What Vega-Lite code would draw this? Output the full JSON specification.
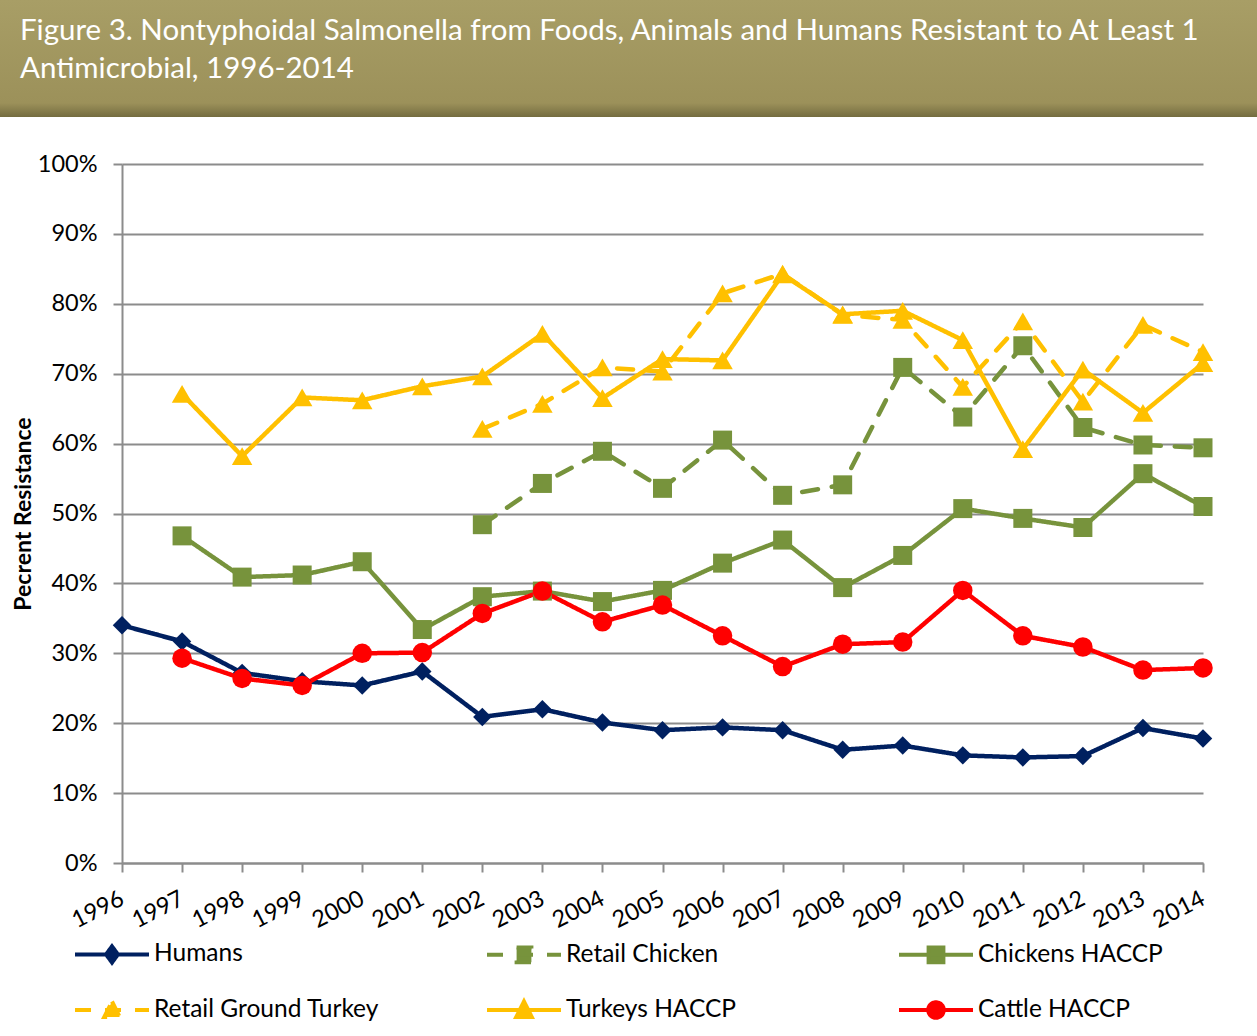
{
  "$schema": "https://vega.github.io/schema/vega-lite/v6.json",
  "padding": 0,
  "background": "white",
  "config": {
    "view": {"stroke": null},
    "font": "Lato"
  },
  "datasets": {
    "series": [
      {"year": "1996", "series": "Humans", "value": 34.0},
      {"year": "1997", "series": "Humans", "value": 31.7},
      {"year": "1998", "series": "Humans", "value": 27.2},
      {"year": "1999", "series": "Humans", "value": 26.0},
      {"year": "2000", "series": "Humans", "value": 25.4},
      {"year": "2001", "series": "Humans", "value": 27.4},
      {"year": "2002", "series": "Humans", "value": 20.9},
      {"year": "2003", "series": "Humans", "value": 22.0},
      {"year": "2004", "series": "Humans", "value": 20.1},
      {"year": "2005", "series": "Humans", "value": 19.0},
      {"year": "2006", "series": "Humans", "value": 19.4},
      {"year": "2007", "series": "Humans", "value": 19.0},
      {"year": "2008", "series": "Humans", "value": 16.2},
      {"year": "2009", "series": "Humans", "value": 16.8},
      {"year": "2010", "series": "Humans", "value": 15.4},
      {"year": "2011", "series": "Humans", "value": 15.1},
      {"year": "2012", "series": "Humans", "value": 15.3},
      {"year": "2013", "series": "Humans", "value": 19.3},
      {"year": "2014", "series": "Humans", "value": 17.8},

      {"year": "2002", "series": "Retail Chicken", "value": 48.4},
      {"year": "2003", "series": "Retail Chicken", "value": 54.3},
      {"year": "2004", "series": "Retail Chicken", "value": 58.9},
      {"year": "2005", "series": "Retail Chicken", "value": 53.6},
      {"year": "2006", "series": "Retail Chicken", "value": 60.5},
      {"year": "2007", "series": "Retail Chicken", "value": 52.6},
      {"year": "2008", "series": "Retail Chicken", "value": 54.1},
      {"year": "2009", "series": "Retail Chicken", "value": 70.9},
      {"year": "2010", "series": "Retail Chicken", "value": 63.8},
      {"year": "2011", "series": "Retail Chicken", "value": 74.0},
      {"year": "2012", "series": "Retail Chicken", "value": 62.3},
      {"year": "2013", "series": "Retail Chicken", "value": 59.8},
      {"year": "2014", "series": "Retail Chicken", "value": 59.4},

      {"year": "1997", "series": "Chickens HACCP", "value": 46.8},
      {"year": "1998", "series": "Chickens HACCP", "value": 40.9},
      {"year": "1999", "series": "Chickens HACCP", "value": 41.2},
      {"year": "2000", "series": "Chickens HACCP", "value": 43.1},
      {"year": "2001", "series": "Chickens HACCP", "value": 33.4},
      {"year": "2002", "series": "Chickens HACCP", "value": 38.1},
      {"year": "2003", "series": "Chickens HACCP", "value": 38.9},
      {"year": "2004", "series": "Chickens HACCP", "value": 37.4},
      {"year": "2005", "series": "Chickens HACCP", "value": 39.0},
      {"year": "2006", "series": "Chickens HACCP", "value": 42.9},
      {"year": "2007", "series": "Chickens HACCP", "value": 46.2},
      {"year": "2008", "series": "Chickens HACCP", "value": 39.4},
      {"year": "2009", "series": "Chickens HACCP", "value": 44.0},
      {"year": "2010", "series": "Chickens HACCP", "value": 50.7},
      {"year": "2011", "series": "Chickens HACCP", "value": 49.3},
      {"year": "2012", "series": "Chickens HACCP", "value": 48.0},
      {"year": "2013", "series": "Chickens HACCP", "value": 55.7},
      {"year": "2014", "series": "Chickens HACCP", "value": 51.0},

      {"year": "2002", "series": "Retail Ground Turkey", "value": 62.1},
      {"year": "2003", "series": "Retail Ground Turkey", "value": 65.7},
      {"year": "2004", "series": "Retail Ground Turkey", "value": 70.9},
      {"year": "2005", "series": "Retail Ground Turkey", "value": 70.3},
      {"year": "2006", "series": "Retail Ground Turkey", "value": 81.5},
      {"year": "2007", "series": "Retail Ground Turkey", "value": 84.3},
      {"year": "2008", "series": "Retail Ground Turkey", "value": 78.4},
      {"year": "2009", "series": "Retail Ground Turkey", "value": 77.7},
      {"year": "2010", "series": "Retail Ground Turkey", "value": 68.1},
      {"year": "2011", "series": "Retail Ground Turkey", "value": 77.5},
      {"year": "2012", "series": "Retail Ground Turkey", "value": 66.0},
      {"year": "2013", "series": "Retail Ground Turkey", "value": 77.0},
      {"year": "2014", "series": "Retail Ground Turkey", "value": 73.1},

      {"year": "1997", "series": "Turkeys HACCP", "value": 67.1},
      {"year": "1998", "series": "Turkeys HACCP", "value": 58.2},
      {"year": "1999", "series": "Turkeys HACCP", "value": 66.6},
      {"year": "2000", "series": "Turkeys HACCP", "value": 66.2},
      {"year": "2001", "series": "Turkeys HACCP", "value": 68.2},
      {"year": "2002", "series": "Turkeys HACCP", "value": 69.6},
      {"year": "2003", "series": "Turkeys HACCP", "value": 75.7},
      {"year": "2004", "series": "Turkeys HACCP", "value": 66.5},
      {"year": "2005", "series": "Turkeys HACCP", "value": 72.1},
      {"year": "2006", "series": "Turkeys HACCP", "value": 71.9},
      {"year": "2007", "series": "Turkeys HACCP", "value": 84.2},
      {"year": "2008", "series": "Turkeys HACCP", "value": 78.5},
      {"year": "2009", "series": "Turkeys HACCP", "value": 79.0},
      {"year": "2010", "series": "Turkeys HACCP", "value": 74.8},
      {"year": "2011", "series": "Turkeys HACCP", "value": 59.2},
      {"year": "2012", "series": "Turkeys HACCP", "value": 70.6},
      {"year": "2013", "series": "Turkeys HACCP", "value": 64.4},
      {"year": "2014", "series": "Turkeys HACCP", "value": 71.5},

      {"year": "1997", "series": "Cattle HACCP", "value": 29.3},
      {"year": "1998", "series": "Cattle HACCP", "value": 26.4},
      {"year": "1999", "series": "Cattle HACCP", "value": 25.4},
      {"year": "2000", "series": "Cattle HACCP", "value": 30.0},
      {"year": "2001", "series": "Cattle HACCP", "value": 30.1},
      {"year": "2002", "series": "Cattle HACCP", "value": 35.7},
      {"year": "2003", "series": "Cattle HACCP", "value": 38.9},
      {"year": "2004", "series": "Cattle HACCP", "value": 34.5},
      {"year": "2005", "series": "Cattle HACCP", "value": 36.9},
      {"year": "2006", "series": "Cattle HACCP", "value": 32.5},
      {"year": "2007", "series": "Cattle HACCP", "value": 28.1},
      {"year": "2008", "series": "Cattle HACCP", "value": 31.3},
      {"year": "2009", "series": "Cattle HACCP", "value": 31.6},
      {"year": "2010", "series": "Cattle HACCP", "value": 39.0},
      {"year": "2011", "series": "Cattle HACCP", "value": 32.5},
      {"year": "2012", "series": "Cattle HACCP", "value": 30.9},
      {"year": "2013", "series": "Cattle HACCP", "value": 27.6},
      {"year": "2014", "series": "Cattle HACCP", "value": 27.9}
    ]
  },
  "columns": 1,
  "spacing": 35,
  "concat": [
    {
      "width": 1135,
      "height": 117,
      "data": {"values": [{"banner": 1}]},
      "title": {
        "text": ["Figure 3. Nontyphoidal Salmonella from Foods, Animals and Humans Resistant to At Least 1", "Antimicrobial, 1996-2014"],
        "anchor": "start",
        "frame": "group",
        "orient": "top",
        "baseline": "top",
        "offset": -84,
        "dx": -102,
        "color": "white",
        "font": "Lato",
        "fontSize": 29.5,
        "fontWeight": "normal",
        "lineHeight": 38
      },
      "mark": {
        "type": "rect",
        "color": {
          "gradient": "linear",
          "x1": 0, "y1": 0, "x2": 0, "y2": 1,
          "stops": [
            {"offset": 0, "color": "#A89E66"},
            {"offset": 0.88, "color": "#9C915A"},
            {"offset": 1, "color": "#746C40"}
          ]
        }
      },
      "encoding": {
        "x": {"value": -122},
        "x2": {"value": 1135}
      }
    },
    {
      "width": 1081,
      "height": 699,
      "data": {"name": "series"},
      "encoding": {
        "x": {
          "field": "year",
          "type": "ordinal",
          "scale": {"type": "point", "padding": 0},
          "axis": {
            "title": null,
            "labelAngle": -27,
            "labelAlign": "right",
            "labelBaseline": "middle",
            "labelPadding": 25,
            "labelFontSize": 23.5,
            "labelColor": "#000000",
            "labelFont": "Lato",
            "tickSize": 9,
            "tickColor": "#8C8C8C",
            "tickWidth": 2,
            "domainColor": "#8C8C8C",
            "domainWidth": 2,
            "grid": false
          }
        },
        "y": {
          "field": "value",
          "type": "quantitative",
          "scale": {"domain": [0, 100], "nice": false},
          "axis": {
            "title": "Pecrent Resistance",
            "titleFont": "Lato",
            "titleFontSize": 23,
            "titleFontWeight": "bold",
            "titleColor": "#000000",
            "titlePadding": 2,
            "values": [0, 10, 20, 30, 40, 50, 60, 70, 80, 90, 100],
            "labelExpr": "datum.value + '%'",
            "labelFontSize": 23.5,
            "labelFont": "Lato",
            "labelColor": "#000000",
            "labelPadding": 16,
            "tickSize": 9,
            "tickColor": "#8C8C8C",
            "tickWidth": 2,
            "domainColor": "#8C8C8C",
            "domainWidth": 2,
            "grid": true,
            "gridColor": "#8C8C8C",
            "gridWidth": 2
          }
        },
        "color": {
          "field": "series",
          "type": "nominal",
          "scale": {
            "domain": ["Humans", "Retail Chicken", "Chickens HACCP", "Retail Ground Turkey", "Turkeys HACCP", "Cattle HACCP"],
            "range": ["#002060", "#77933C", "#77933C", "#FFC000", "#FFC000", "#FF0000"]
          },
          "legend": {
            "title": null,
            "orient": "none",
            "legendX": -49,
            "legendY": 915,
            "direction": "horizontal",
            "columns": 3,
            "gridAlign": "all",
            "columnPadding": 99,
            "rowPadding": -24,
            "symbolSize": 5476,
            "symbolStrokeWidth": 4,
            "labelFontSize": 24.5,
            "labelFont": "Lato",
            "labelColor": "#000000",
            "labelOffset": 3,
            "labelLimit": 400,
            "encode": {
              "symbols": {
                "update": {
                  "shape": {"signal": "datum.value === 'Humans' ? 'M-1,0H1M0,-0.22L0.16,0L0,0.22L-0.16,0Z' : (datum.value === 'Cattle HACCP' ? 'M-1,0H1M-0.21,0A0.21,0.21 0 1,0 0.21,0A0.21,0.21 0 1,0 -0.21,0Z' : (indexof(datum.value, 'Turkey') >= 0 ? 'M-1,0H1M0,-0.23L0.21,0.19L-0.21,0.19Z' : 'M-1,0H1M-0.2,-0.2H0.2V0.2H-0.2Z'))"},
                  "fill": {"scale": "color", "field": "value"},
                  "stroke": {"scale": "color", "field": "value"},
                  "strokeWidth": {"value": 4},
                  "opacity": {"value": 1},
                  "fillOpacity": {"value": 1},
                  "strokeOpacity": {"value": 1}
                }
              }
            }
          }
        }
      },
      "layer": [
        {
          "mark": {"type": "line", "strokeWidth": 4.5, "strokeCap": "round", "strokeJoin": "round"},
          "encoding": {
            "strokeDash": {
              "field": "series",
              "type": "nominal",
              "scale": {
                "domain": ["Humans", "Retail Chicken", "Chickens HACCP", "Retail Ground Turkey", "Turkeys HACCP", "Cattle HACCP"],
                "range": [[1, 0], [16, 14], [1, 0], [16, 14], [1, 0], [1, 0]]
              }
            }
          }
        },
        {
          "transform": [{"filter": {"field": "series", "equal": "Humans"}}],
          "mark": {"type": "point", "shape": "diamond", "size": 340, "filled": true, "opacity": 1}
        },
        {
          "transform": [{"filter": {"field": "series", "oneOf": ["Retail Chicken", "Chickens HACCP"]}}],
          "mark": {"type": "point", "shape": "square", "size": 361, "filled": true, "opacity": 1}
        },
        {
          "transform": [{"filter": {"field": "series", "oneOf": ["Retail Ground Turkey", "Turkeys HACCP"]}}],
          "mark": {"type": "point", "shape": "triangle-up", "size": 420, "filled": true, "opacity": 1}
        },
        {
          "transform": [{"filter": {"field": "series", "equal": "Cattle HACCP"}}],
          "mark": {"type": "point", "shape": "circle", "size": 380, "filled": true, "opacity": 1}
        }
      ]
    }
  ]
}
